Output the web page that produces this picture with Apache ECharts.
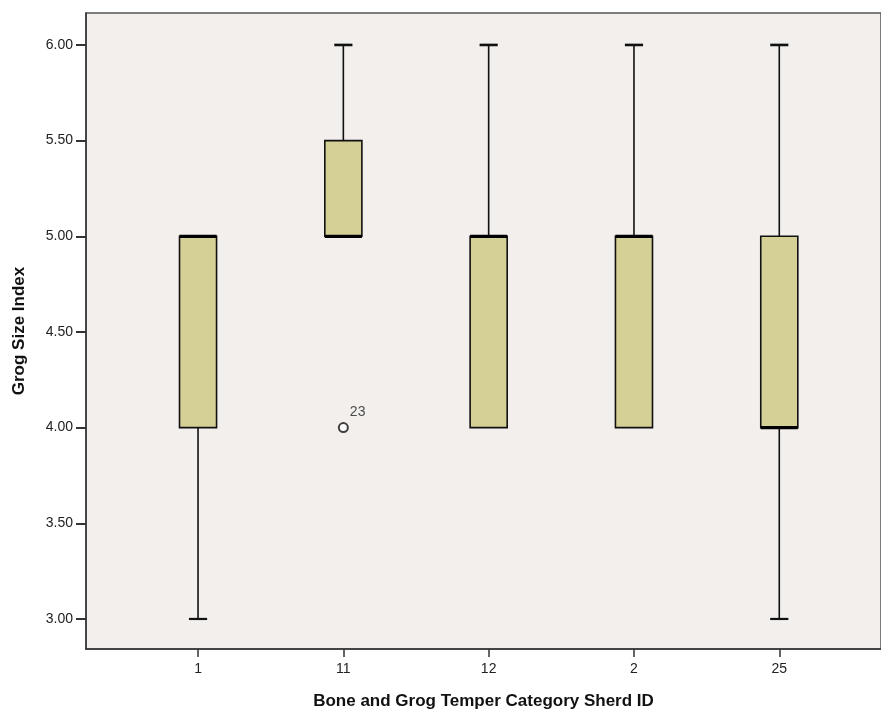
<!DOCTYPE html>
<html>
<head>
<meta charset="utf-8">
<script src="https://cdn.jsdelivr.net/npm/echarts@6/dist/echarts.min.js"></script>
<style>
	html, body { margin: 0; padding: 0; background: #fff; }
	#chartDiv { width: 881px; height: 715px; }
</style>
</head>
<body>
<div id="chartDiv"></div>
<script>
// category labels along the x axis
var categories = ['1', '11', '12', '2', '25'];
// box plot statistics, one per category
var whiskerLow = [3, 5, 4, 4, 3];
var quartile1 = [4, 5, 4, 4, 4];
var medians = [5, 5, 5, 5, 4];
var quartile3 = [5, 5.5, 5, 5, 5];
var whiskerHigh = [5, 6, 6, 6, 6];
// outliers: [category index, value, case label]
var outliers = [[1, 4, '23']];
// y tick labels
var yTicks = [3, 3.5, 4, 4.5, 5, 5.5, 6];

var boxData = [];
for (var i = 0; i < categories.length; i++) {
	boxData.push([i, whiskerLow[i], quartile1[i], medians[i], quartile3[i], whiskerHigh[i]]);
}

function renderBox(params, api) {
	var x = api.value(0);
	var lo = api.coord([x, api.value(1)]);
	var q1 = api.coord([x, api.value(2)]);
	var med = api.coord([x, api.value(3)]);
	var q3 = api.coord([x, api.value(4)]);
	var hi = api.coord([x, api.value(5)]);
	var boxW = api.size([0.255, 0])[0];
	var capW = api.size([0.125, 0])[0];
	var cx = q1[0];
	var line = { stroke: '#111', lineWidth: 1.6 };
	var children = [];
	if (hi[1] < q3[1]) {
		children.push({ type: 'line', shape: { x1: cx, y1: hi[1], x2: cx, y2: q3[1] }, style: line });
		children.push({ type: 'line', shape: { x1: cx - capW / 2, y1: hi[1], x2: cx + capW / 2, y2: hi[1] }, style: { stroke: '#111', lineWidth: 2.6 } });
	}
	if (lo[1] > q1[1]) {
		children.push({ type: 'line', shape: { x1: cx, y1: q1[1], x2: cx, y2: lo[1] }, style: line });
		children.push({ type: 'line', shape: { x1: cx - capW / 2, y1: lo[1], x2: cx + capW / 2, y2: lo[1] }, style: { stroke: '#111', lineWidth: 2.2 } });
	}
	children.push({
		type: 'rect',
		shape: { x: cx - boxW / 2, y: q3[1], width: boxW, height: q1[1] - q3[1] },
		style: { fill: '#d4d096', stroke: '#111', lineWidth: 1.6 }
	});
	children.push({ type: 'line', shape: { x1: cx - boxW / 2, y1: med[1], x2: cx + boxW / 2, y2: med[1] }, style: { stroke: '#000', lineWidth: 3.2 } });
	return { type: 'group', children: children };
}

var chart = echarts.init(document.getElementById('chartDiv'));
chart.setOption({
	backgroundColor: '#ffffff',
	animation: false,
	textStyle: { fontFamily: 'Liberation Sans' },
	grid: {
		left: 86, top: 13, right: 0, bottom: 66,
		outerBoundsMode: 'none',
		show: true, backgroundColor: '#f2efed', borderColor: '#555', borderWidth: 1.5
	},
	xAxis: {
		type: 'value',
		min: -0.771, max: 4.7,
		name: 'Bone and Grog Temper Category Sherd ID',
		nameLocation: 'middle', nameGap: 44,
		nameTextStyle: { fontSize: 17, fontWeight: 'bold', color: '#111' },
		axisLine: { show: true, onZero: false, lineStyle: { color: '#333', width: 1.5 } },
		axisTick: { show: true, customValues: [0, 1, 2, 3, 4], length: 8, lineStyle: { color: '#333', width: 1.5 } },
		axisLabel: {
			customValues: [0, 1, 2, 3, 4], color: '#222', fontSize: 14, margin: 13,
			formatter: function (v) { return categories[Math.round(v)]; }
		},
		splitLine: { show: false }
	},
	yAxis: {
		type: 'value',
		min: 2.843, max: 6.167,
		name: 'Grog Size Index',
		nameLocation: 'middle', nameGap: 58,
		nameTextStyle: { fontSize: 17, fontWeight: 'bold', color: '#111' },
		axisLine: { show: true, onZero: false, lineStyle: { color: '#333', width: 1.5 } },
		axisTick: { show: true, customValues: yTicks, length: 10, lineStyle: { color: '#333', width: 2 } },
		axisLabel: {
			customValues: yTicks, color: '#222', fontSize: 14, margin: 13,
			formatter: function (v) { return v.toFixed(2); }
		},
		splitLine: { show: false }
	},
	series: [
		{
			type: 'custom',
			renderItem: renderBox,
			data: boxData,
			encode: { x: 0, y: [1, 2, 3, 4, 5] },
			clip: false
		},
		{
			type: 'scatter',
			symbol: 'emptyCircle',
			symbolSize: 9,
			itemStyle: { color: '#111', borderColor: '#111', borderWidth: 1.6 },
			label: {
				show: true, position: [12, -10], align: 'left', verticalAlign: 'middle',
				fontSize: 14, color: '#222',
				formatter: function (p) { return p.data[2]; }
			},
			data: outliers.map(function (o) { return [o[0], o[1], o[2]]; })
		}
	]
});
</script>
</body>
</html>
